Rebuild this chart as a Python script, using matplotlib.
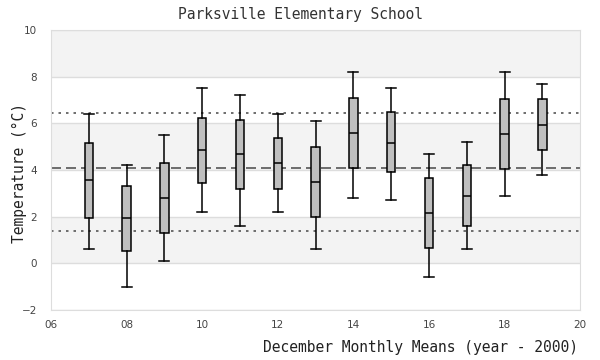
import matplotlib
matplotlib.use("Agg")
import matplotlib.pyplot as plt

# December monthly means per year (year - 2000)
years = [7, 8, 9, 10, 11, 12, 13, 14, 15, 16, 17, 18, 19]
whisker_lo = [0.6, -1.0, 0.1, 2.2, 1.6, 2.2, 0.6, 2.8, 2.7, -0.6, 0.6, 2.9, 3.8]
q1 = [1.95, 0.55, 1.3, 3.45, 3.2, 3.2, 2.0, 4.1, 3.9, 0.65, 1.6, 4.05, 4.85]
medians = [3.57, 1.93, 2.8, 4.85, 4.67, 4.32, 3.5, 5.6, 5.17, 2.17, 2.9, 5.55, 5.95]
q3 = [5.15, 3.32, 4.3, 6.22, 6.17, 5.38, 5.0, 7.1, 6.5, 3.68, 4.2, 7.05, 7.05]
whisker_hi = [6.4, 4.2, 5.5, 7.52, 7.22, 6.42, 6.1, 8.2, 7.52, 4.68, 5.2, 8.2, 7.7]

# reference lines (upper, middle, lower)
ref_hi = 6.47
ref_mid = 4.09
ref_lo = 1.4

xticks = [6, 8, 10, 12, 14, 16, 18, 20]
yticks = [-2, 0, 2, 4, 6, 8, 10]

fig = plt.figure(figsize=(6, 3.6), dpi=100)
ax = fig.add_axes([0.085, 0.139, 0.882, 0.777])

# alternating background bands
for i in range(len(yticks) - 1):
    if i % 2 == 1:
        ax.axhspan(yticks[i], yticks[i + 1], color="#f3f3f3", zorder=0, lw=0)
for y in yticks:
    ax.axhline(y, color="#dddddd", lw=1, zorder=0.5)

ax.axhline(ref_hi, color="#555555", lw=1.2, ls=(0, (1.5, 3)), zorder=1)
ax.axhline(ref_lo, color="#555555", lw=1.2, ls=(0, (1.5, 3)), zorder=1)
ax.axhline(ref_mid, color="#555555", lw=1.2, ls=(0, (6, 3)), zorder=1)

stats = []
for i in range(len(years)):
    stats.append({"med": medians[i], "q1": q1[i], "q3": q3[i],
                  "whislo": whisker_lo[i], "whishi": whisker_hi[i], "fliers": []})

ax.bxp(stats, positions=years, widths=0.22, patch_artist=True, showfliers=False,
       boxprops=dict(facecolor="#bfbfbf", edgecolor="black", lw=1.1),
       medianprops=dict(color="black", lw=1.1),
       whiskerprops=dict(color="black", lw=1.1),
       capprops=dict(color="black", lw=1.1),
       capwidths=0.26, manage_ticks=False, zorder=2)

ax.set_xlim(6, 20)
ax.set_ylim(-2, 10)
ax.set_xticks(xticks)
ax.set_xticklabels(["%02d" % t for t in xticks])
ax.set_yticks(yticks)
ax.tick_params(length=0, labelsize=7.5, labelcolor="#444444")
ax.tick_params(axis="y", pad=10)
ax.tick_params(axis="x", pad=7)
for s in ax.spines.values():
    s.set_color("#dddddd")
ax.set_axisbelow(True)

mono = "DejaVu Sans Mono"
fig.text(0.5, 0.96, "Parksville Elementary School", ha="center", va="center",
         family=mono, fontsize=10.5, color="#333333")
fig.text(0.032, 0.52, "Temperature (°C)", ha="center", va="center", rotation=90,
         family=mono, fontsize=10.5, color="#222222")
fig.text(0.963, 0.036, "December Monthly Means (year - 2000)", ha="right", va="center",
         family=mono, fontsize=10.5, color="#222222")

fig.savefig("out.png", dpi=100)
